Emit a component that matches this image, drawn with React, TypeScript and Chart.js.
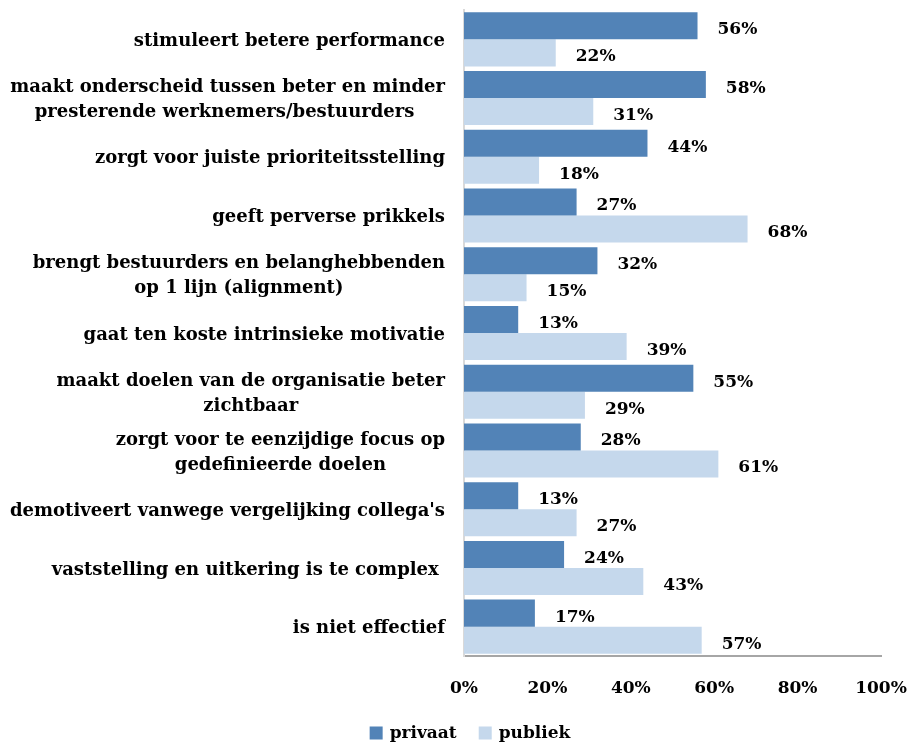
import React, { useEffect, useRef } from "react";
import { Chart, registerables } from "chart.js";

Chart.register(...registerables);

const categories: string[][] = [
  ["stimuleert betere performance"],
  ["maakt onderscheid tussen beter en minder", "presterende werknemers/bestuurders "],
  ["zorgt voor juiste prioriteitsstelling"],
  ["geeft perverse prikkels"],
  ["brengt bestuurders en belanghebbenden", "op 1 lijn (alignment)"],
  ["gaat ten koste intrinsieke motivatie"],
  ["maakt doelen van de organisatie beter", "zichtbaar"],
  ["zorgt voor te eenzijdige focus op", "gedefinieerde doelen"],
  ["demotiveert vanwege vergelijking collega's"],
  ["vaststelling en uitkering is te complex "],
  ["is niet effectief"],
];

const privaat: number[] = [56, 58, 44, 27, 32, 13, 55, 28, 13, 24, 17];
const publiek: number[] = [22, 31, 18, 68, 15, 39, 29, 61, 27, 43, 57];

const xTicks: number[] = [0, 20, 40, 60, 80, 100];

const seriesNames = ["privaat", "publiek"];
const seriesColors = ["#5283B7", "#C5D8EC"];

const FONT_FAMILY = "'DejaVu Serif', serif";
const font = `bold 17px ${FONT_FAMILY}`;
const categoryFont = `bold 18px ${FONT_FAMILY}`;

// Wrapped category labels: block right-aligned, lines centred within it
const categoryLabelPlugin = {
  id: "categoryLabels",
  afterDraw(chart: any) {
    const { ctx } = chart;
    const yScale = chart.scales.y;
    const right = chart.chartArea.left - 19;
    const lineHeight = 25;
    ctx.save();
    ctx.font = categoryFont;
    ctx.fillStyle = "#000";
    ctx.textBaseline = "middle";
    ctx.textAlign = "center";
    categories.forEach((lines, i) => {
      const cy = yScale.getPixelForValue(i) + 2;
      const widths = lines.map((l) => ctx.measureText(l).width);
      const block = Math.max(...widths);
      const centreX = right - block / 2;
      const y0 = cy - ((lines.length - 1) * lineHeight) / 2;
      lines.forEach((l, j) => ctx.fillText(l, centreX, y0 + j * lineHeight));
    });
    ctx.restore();
  },
};

// Percentage tick labels under the value axis
const xTickPlugin = {
  id: "xTickLabels",
  afterDraw(chart: any) {
    const { ctx } = chart;
    const xScale = chart.scales.x;
    const y = chart.chartArea.bottom + 33;
    ctx.save();
    ctx.font = font;
    ctx.fillStyle = "#000";
    ctx.textAlign = "center";
    ctx.textBaseline = "middle";
    xTicks.forEach((v) => ctx.fillText(`${v}%`, xScale.getPixelForValue(v), y));
    ctx.restore();
  },
};

// Value labels placed just past the end of each bar
const valueLabelPlugin = {
  id: "valueLabels",
  afterDatasetsDraw(chart: any) {
    const { ctx } = chart;
    ctx.save();
    ctx.font = font;
    ctx.fillStyle = "#000";
    ctx.textAlign = "left";
    ctx.textBaseline = "middle";
    chart.data.datasets.forEach((ds: any, di: number) => {
      const meta = chart.getDatasetMeta(di);
      meta.data.forEach((bar: any, i: number) => {
        ctx.fillText(`${ds.data[i]}%`, bar.x + 20, bar.y + 4);
      });
    });
    ctx.restore();
  },
};

// Legend beneath the axis
const legendPlugin = {
  id: "bottomLegend",
  afterDraw(chart: any) {
    const { ctx } = chart;
    ctx.save();
    ctx.font = font;
    ctx.textBaseline = "middle";
    ctx.textAlign = "left";
    const box = 13;
    const gapBoxText = 7;
    const gapItems = 22;
    const widths = seriesNames.map((n) => box + gapBoxText + ctx.measureText(n).width);
    const total = widths.reduce((a, b) => a + b, 0) + gapItems * (seriesNames.length - 1);
    let x = 470 - total / 2;
    const cy = 734;
    seriesNames.forEach((n, i) => {
      ctx.fillStyle = seriesColors[i];
      ctx.fillRect(x, cy - box / 2 - 1, box, box);
      ctx.fillStyle = "#000";
      ctx.fillText(n, x + box + gapBoxText, cy);
      x += widths[i] + gapItems;
    });
    ctx.restore();
  },
};

export default function App() {
  const canvasRef = useRef<HTMLCanvasElement | null>(null);

  useEffect(() => {
    if (!canvasRef.current) return;
    const chart = new Chart(canvasRef.current, {
      type: "bar",
      data: {
        labels: categories.map((c) => c.join(" ")),
        datasets: seriesNames.map((name, i) => ({
          label: name,
          data: i === 0 ? privaat : publiek,
          backgroundColor: seriesColors[i],
          borderWidth: 0,
          categoryPercentage: 0.92,
          barPercentage: 1,
        })),
      },
      options: {
        indexAxis: "y",
        animation: false,
        responsive: false,
        maintainAspectRatio: false,
        layout: { padding: { top: 10, right: 28, bottom: 0, left: 0 } },
        plugins: {
          legend: { display: false },
          tooltip: { enabled: false },
        },
        scales: {
          x: {
            min: 0,
            max: 100,
            ticks: { display: false },
            afterFit: (scale: any) => {
              scale.height = 90;
            },
            grid: { display: false, drawTicks: false },
            border: { display: true, color: "#A6A6A6", width: 2 },
          },
          y: {
            ticks: { display: false },
            afterFit: (scale: any) => {
              scale.width = 464;
            },
            grid: { display: false, drawTicks: false },
            border: { display: true, color: "#D9D9D9", width: 2 },
          },
        },
      },
      plugins: [categoryLabelPlugin, xTickPlugin, valueLabelPlugin, legendPlugin],
    });
    return () => chart.destroy();
  }, []);

  return (
    <div style={{ position: "fixed", left: 0, top: 0, width: 909, height: 746, background: "#fff" }}>
      <canvas ref={canvasRef} width={909} height={746} />
    </div>
  );
}
